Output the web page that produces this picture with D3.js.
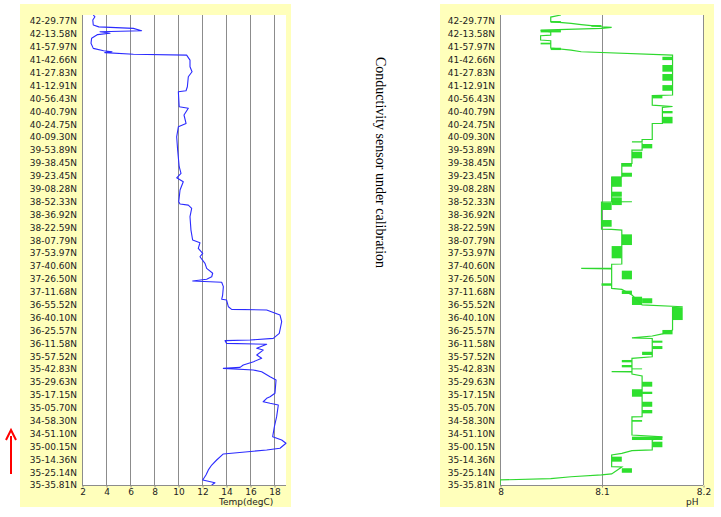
<!DOCTYPE html>
<html><head><meta charset="utf-8">
<script src="https://cdn.jsdelivr.net/npm/d3@7"></script>
<style>html,body{margin:0;padding:0;background:#fff;}svg{display:block;}</style>
</head><body>
<svg id="chart" width="721" height="517"></svg>
<script>
// ---- data ----
const latLabels = ["42-29.77N","42-13.58N","41-57.97N","41-42.66N","41-27.83N","41-12.91N","40-56.43N","40-40.79N","40-24.75N","40-09.30N","39-53.89N","39-38.45N","39-23.45N","39-08.28N","38-52.33N","38-36.92N","38-22.59N","38-07.79N","37-53.97N","37-40.60N","37-26.50N","37-11.68N","36-55.52N","36-40.10N","36-25.57N","36-11.58N","35-57.52N","35-42.83N","35-29.63N","35-17.15N","35-05.70N","34-58.30N","34-51.10N","35-00.15N","35-14.36N","35-25.14N","35-35.81N"];
const tempTicks = [2,4,6,8,10,12,14,16,18];
const phTicks = [8, 8.1, 8.2];
const sideNote = "Conductivity sensor under calibration";
// [position along track in label steps (0 = top label), temperature degC]
const tempTrack = [[-0.47,2.94],[-0.33,3.08],[-0.08,2.9],[0.31,2.94],[0.45,3.4],[0.57,6.28],[0.75,6.97],[0.83,3.5],[0.95,4.33],[1.05,3.3],[1.34,2.8],[1.73,2.75],[2.12,2.94],[2.30,3.8],[2.38,4.5],[2.45,3.9],[2.58,6.28],[2.64,10.72],[3.03,11.0],[3.55,11.0],[3.93,11.17],[4.32,10.86],[5.10,10.78],[5.41,10.67],[5.49,10.03],[6.65,10.1],[6.77,10.86],[7.29,10.5],[7.94,10.67],[8.20,10.03],[8.98,9.89],[10.01,9.97],[11.30,10.1],[11.82,10.25],[12.16,9.89],[12.47,10.44],[13.11,10.17],[14.02,10.06],[14.20,10.17],[14.28,10.86],[14.53,11.14],[15.18,11.0],[16.22,11.08],[16.99,11.22],[17.20,11.83],[17.64,11.69],[18.02,12.06],[18.29,11.83],[18.80,12.25],[19.19,12.39],[19.57,12.89],[19.84,12.81],[20.04,12.39],[20.17,11.22],[20.27,13.64],[20.61,13.78],[21.26,13.72],[21.59,13.64],[21.65,14.05],[22.17,14.2],[22.37,14.47],[22.42,17.39],[22.81,18.5],[23.33,18.64],[24.23,18.44],[24.62,17.94],[24.75,16.0],[24.80,13.92],[25.01,14.05],[25.08,17.39],[25.39,16.56],[25.53,17.1],[25.91,16.56],[26.17,16.97],[26.43,16.3],[26.69,15.44],[26.87,15.17],[26.95,13.78],[27.08,16.28],[27.21,16.97],[27.60,17.67],[27.85,18.17],[28.88,18.08],[29.15,17.67],[29.27,17.39],[29.54,17.1],[29.66,17.67],[29.79,18.36],[30.70,18.22],[31.48,18.03],[32.25,17.89],[32.51,18.64],[32.76,19.0],[33.15,18.5],[33.28,17.39],[33.59,13.78],[34.06,13.22],[34.45,12.81],[34.83,12.53],[35.22,12.33],[35.61,12.06],[35.82,13.08],[36.0,12.81]];
// [position, pH]
const phTrack = [[-0.47,8.06],[-0.31,8.05],[0.05,8.05],[0.18,8.07],[0.27,8.08],[0.35,8.09],[0.44,8.10],[0.49,8.11],[0.57,8.10],[0.70,8.04],[0.85,8.05],[1.09,8.05],[1.14,8.04],[1.47,8.04],[1.53,8.05],[2.09,8.05],[2.25,8.07],[2.38,8.08],[2.64,8.17],[5.74,8.17],[5.78,8.15],[6.52,8.15],[6.63,8.17],[6.70,8.16],[7.94,8.16],[7.95,8.15],[9.18,8.15],[9.19,8.14],[9.36,8.14],[9.37,8.13],[9.39,8.14],[10.01,8.14],[10.02,8.13],[11.04,8.13],[11.06,8.12],[12.08,8.12],[12.10,8.11],[14.00,8.11],[14.02,8.13],[14.04,8.10],[16.14,8.10],[16.16,8.11],[16.22,8.12],[18.85,8.12],[18.87,8.11],[19.16,8.11],[19.19,8.08],[19.24,8.11],[20.74,8.11],[20.82,8.12],[21.26,8.13],[22.03,8.14],[22.17,8.18],[22.23,8.17],[23.97,8.17],[24.28,8.16],[24.44,8.15],[24.59,8.13],[24.63,8.15],[26.05,8.15],[26.17,8.13],[27.19,8.13],[27.21,8.11],[27.23,8.13],[27.39,8.13],[27.54,8.14],[30.70,8.14],[30.72,8.13],[32.12,8.13],[32.27,8.16],[32.51,8.15],[33.28,8.15],[33.34,8.13],[33.54,8.12],[33.67,8.11],[34.58,8.11],[34.60,8.12],[35.14,8.11],[35.22,8.10],[35.36,8.07],[35.51,8.05],[35.61,8.00],[36.0,8.00]];
// rapid oscillation bands: [pos start, pos end, low pH, high pH]
const phBands = [[0,0.13,8.05,8.06],[0.31,0.44,8.09,8.10],[0.70,0.88,8.04,8.06],[1.68,1.81,8.04,8.05],[2.07,2.25,8.05,8.06],[2.77,3.03,8.16,8.17],[3.41,3.93,8.16,8.17],[4.11,4.63,8.16,8.17],[4.97,5.41,8.16,8.17],[5.74,6.00,8.15,8.16],[6.98,7.16,8.16,8.17],[7.43,7.94,8.16,8.17],[9.54,9.88,8.14,8.15],[10.14,10.65,8.13,8.14],[11.04,11.30,8.12,8.13],[11.77,12.08,8.12,8.13],[12.08,12.86,8.11,8.12],[13.24,13.63,8.11,8.12],[13.68,14.28,8.11,8.12],[14.07,14.66,8.10,8.11],[15.44,15.96,8.10,8.11],[16.55,17.38,8.12,8.13],[17.46,18.41,8.11,8.12],[19.37,20.04,8.12,8.13],[20.35,20.54,8.10,8.11],[20.92,21.18,8.12,8.13],[21.39,22.03,8.13,8.14],[21.51,21.90,8.14,8.15],[22.21,23.20,8.17,8.18],[23.97,24.31,8.16,8.17],[24.80,24.96,8.15,8.16],[25.22,25.45,8.15,8.16],[25.66,25.91,8.14,8.15],[26.30,26.48,8.12,8.13],[26.69,26.87,8.12,8.13],[26.95,27.00,8.13,8.14],[27.99,28.37,8.14,8.15],[28.57,29.15,8.13,8.14],[28.76,28.94,8.14,8.15],[29.54,29.93,8.14,8.15],[30.18,30.44,8.14,8.15],[30.96,31.09,8.13,8.14],[32.25,32.51,8.13,8.16],[32.64,33.07,8.15,8.16],[33.80,34.19,8.11,8.12],[34.70,35.05,8.12,8.13]];

// ---- drawing ----
const svg = d3.select("#chart");
const FONT = "'DejaVu Sans', Verdana, sans-serif";
const yellow = "#ffffbb", grid = "#8c8c8c";
const plotTop = 15, plotBottom = 485;
const y = d3.scaleLinear().domain([-0.47, latLabels.length - 1]).range([plotTop, plotBottom]);

function panel(cfg) {
  const g = svg.append("g");
  g.append("rect").attr("x", cfg.bgX0).attr("y", 4).attr("width", cfg.bgX1 - cfg.bgX0).attr("height", 503).attr("fill", yellow);
  const [x0, x1] = cfg.x.range();
  g.append("rect").attr("x", x0).attr("y", plotTop).attr("width", x1 - x0).attr("height", plotBottom - plotTop).attr("fill", "#fff");
  g.selectAll("line.grid").data(cfg.ticks).join("line").attr("class", "grid")
    .attr("x1", d => Math.round(cfg.x(d)) + 0.5).attr("x2", d => Math.round(cfg.x(d)) + 0.5)
    .attr("y1", plotTop).attr("y2", plotBottom).attr("stroke", grid).attr("stroke-width", 1);
  const ax = g.append("g").attr("transform", `translate(0.5,${plotBottom + 0.5})`)
    .call(d3.axisBottom(cfg.x).tickValues(cfg.ticks).tickFormat(cfg.fmt).tickSizeInner(2).tickSizeOuter(0).tickPadding(1));
  ax.select(".domain").attr("stroke", grid).attr("d", `M${x0 - 0.5},0H${x1 - 0.5}`);
  ax.selectAll(".tick line").attr("stroke", grid);
  ax.selectAll("text").attr("font-family", FONT).attr("font-size", 9).attr("fill", "#222");
  const ay = g.append("g").attr("transform", `translate(${x0},0)`)
    .call(d3.axisLeft(y).tickValues(d3.range(latLabels.length)).tickFormat(i => latLabels[i]).tickSize(0).tickPadding(5));
  ay.select(".domain").remove();
  ay.selectAll("text").attr("font-family", FONT).attr("font-size", 9).attr("fill", "#222");
  g.append("line").attr("x1", x0 + 0.5).attr("x2", x0 + 0.5).attr("y1", plotTop).attr("y2", plotBottom).attr("stroke", grid);
  g.append("text").attr("x", cfg.titleX).attr("y", 505).attr("font-family", FONT).attr("font-size", 9).attr("fill", "#222").text(cfg.title);
  const id = "clip" + cfg.title.replace(/\W/g, "");
  svg.append("clipPath").attr("id", id).append("rect").attr("x", x0).attr("y", plotTop).attr("width", x1 - x0 + 1).attr("height", plotBottom - plotTop);
  return g.append("g").attr("clip-path", `url(#${id})`);
}

// Left: temperature
const xT = d3.scaleLinear().domain([2, 19]).range([82, 286]);
const gT = panel({ x: xT, ticks: tempTicks, fmt: d3.format("d"), bgX0: 20, bgX1: 291, title: "Temp(degC)", titleX: 219 });
gT.append("path").datum(tempTrack)
  .attr("d", d3.line().x(d => xT(d[1])).y(d => y(d[0])))
  .attr("fill", "none").attr("stroke", "#2b2bff").attr("stroke-width", 1.1).attr("stroke-linejoin", "round");

// Right: pH
const xP = d3.scaleLinear().domain([8, 8.2]).range([500, 703]);
const gP = panel({ x: xP, ticks: phTicks, fmt: d => d3.format(".1f")(d).replace(/^8\.0$/, "8"), bgX0: 440, bgX1: 714, title: "pH", titleX: 686 });
gP.selectAll("rect.band").data(phBands).join("rect").attr("class", "band")
  .attr("x", d => xP(d[2])).attr("width", d => xP(d[3]) - xP(d[2]))
  .attr("y", d => y(d[0])).attr("height", d => Math.max(1, y(d[1]) - y(d[0])))
  .attr("fill", "#2ee02e");
gP.append("path").datum(phTrack)
  .attr("d", d3.line().x(d => xP(d[1])).y(d => y(d[0])))
  .attr("fill", "none").attr("stroke", "#2ed82e").attr("stroke-width", 1.2);

// side note
svg.append("text").attr("transform", "translate(375.5,57) rotate(90)")
  .attr("font-family", "'Liberation Serif','Times New Roman',serif").attr("font-size", 14).attr("fill", "#000")
  .text(sideNote);

// red direction arrow
svg.append("line").attr("x1", 11).attr("x2", 11).attr("y1", 474).attr("y2", 436).attr("stroke", "#ff0000").attr("stroke-width", 2);
svg.append("path").attr("d", d3.line()([[6, 440], [11, 430], [16, 440]])).attr("fill", "none").attr("stroke", "#ff0000").attr("stroke-width", 2);
</script>
</body></html>
